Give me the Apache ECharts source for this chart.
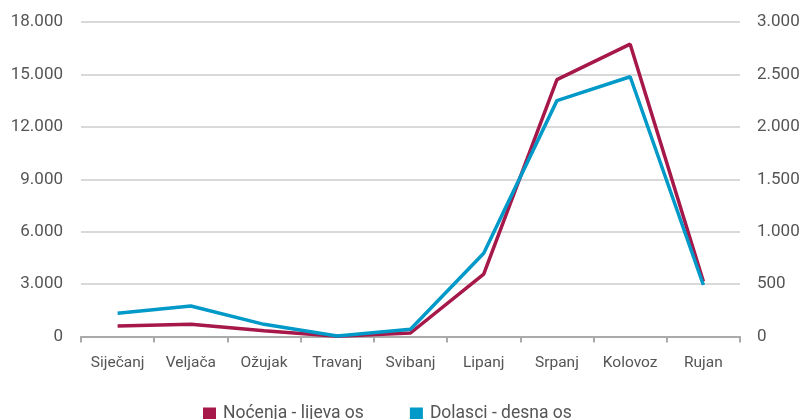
<!DOCTYPE html>
<html><head><meta charset="utf-8">
<script src="https://cdn.jsdelivr.net/npm/echarts@6/dist/echarts.min.js"></script>
<style>html,body{margin:0;padding:0;background:#fff}#c{width:803px;height:419px}</style>
</head><body><div id="c"></div>
<script>
const categories = ['Siječanj','Veljača','Ožujak','Travanj','Svibanj','Lipanj','Srpanj','Kolovoz','Rujan'];
const nocenja = [600, 700, 330, 20, 200, 3575, 14700, 16730, 3150];
const dolasci = [221, 291, 116, 5, 69, 794, 2250, 2478, 491];
const leftTicks = {min: 0, max: 18000, interval: 3000};
const rightTicks = {min: 0, max: 3000, interval: 500};
const seriesNames = ['Noćenja - lijeva os', 'Dolasci - desna os'];

function fmt(v){ return String(v).replace(/\B(?=(\d{3})+(?!\d))/g, '.'); }
const font = 'Roboto, "DejaVu Sans", sans-serif';
const chart = echarts.init(document.getElementById('c'));
chart.setOption({
  animation: false,
  textStyle: {fontFamily: font},
  grid: {left: 81, right: 63, top: 22, bottom: 82.5, containLabel: false},
  legend: {
    top: 405, left: 203, padding: 0, itemWidth: 13, itemHeight: 13, itemGap: 46,
    icon: 'rect',
    textStyle: {fontSize: 17.5, color: '#555', fontFamily: font, padding: [0, 0, 0, 2]},
    data: seriesNames
  },
  xAxis: {
    type: 'category', data: categories, boundaryGap: true,
    axisLine: {lineStyle: {color: '#aaa', width: 2}},
    axisTick: {show: true, length: 6, lineStyle: {color: '#aaa', width: 2}},
    axisLabel: {fontSize: 15.5, color: '#555', margin: 19, fontFamily: font}
  },
  yAxis: [
    {type: 'value', min: leftTicks.min, max: leftTicks.max, interval: leftTicks.interval,
     axisLine: {show: false}, axisTick: {show: false},
     splitLine: {lineStyle: {color: '#ccc', width: 1.5}},
     axisLabel: {fontSize: 17, color: '#555', margin: 18, formatter: fmt, fontFamily: font}},
    {type: 'value', min: rightTicks.min, max: rightTicks.max, interval: rightTicks.interval,
     axisLine: {show: false}, axisTick: {show: false}, splitLine: {show: false},
     axisLabel: {fontSize: 17, color: '#555', margin: 17, formatter: fmt, fontFamily: font}}
  ],
  series: [
    {name: seriesNames[0], type: 'line', yAxisIndex: 0, data: nocenja, symbol: 'none',
     lineStyle: {color: '#A6174A', width: 3.5}, itemStyle: {color: '#A6174A'}, z: 3},
    {name: seriesNames[1], type: 'line', yAxisIndex: 1, data: dolasci, symbol: 'none',
     lineStyle: {color: '#0099C8', width: 3.5}, itemStyle: {color: '#0099C8'}, z: 4}
  ]
});
</script></body></html>
